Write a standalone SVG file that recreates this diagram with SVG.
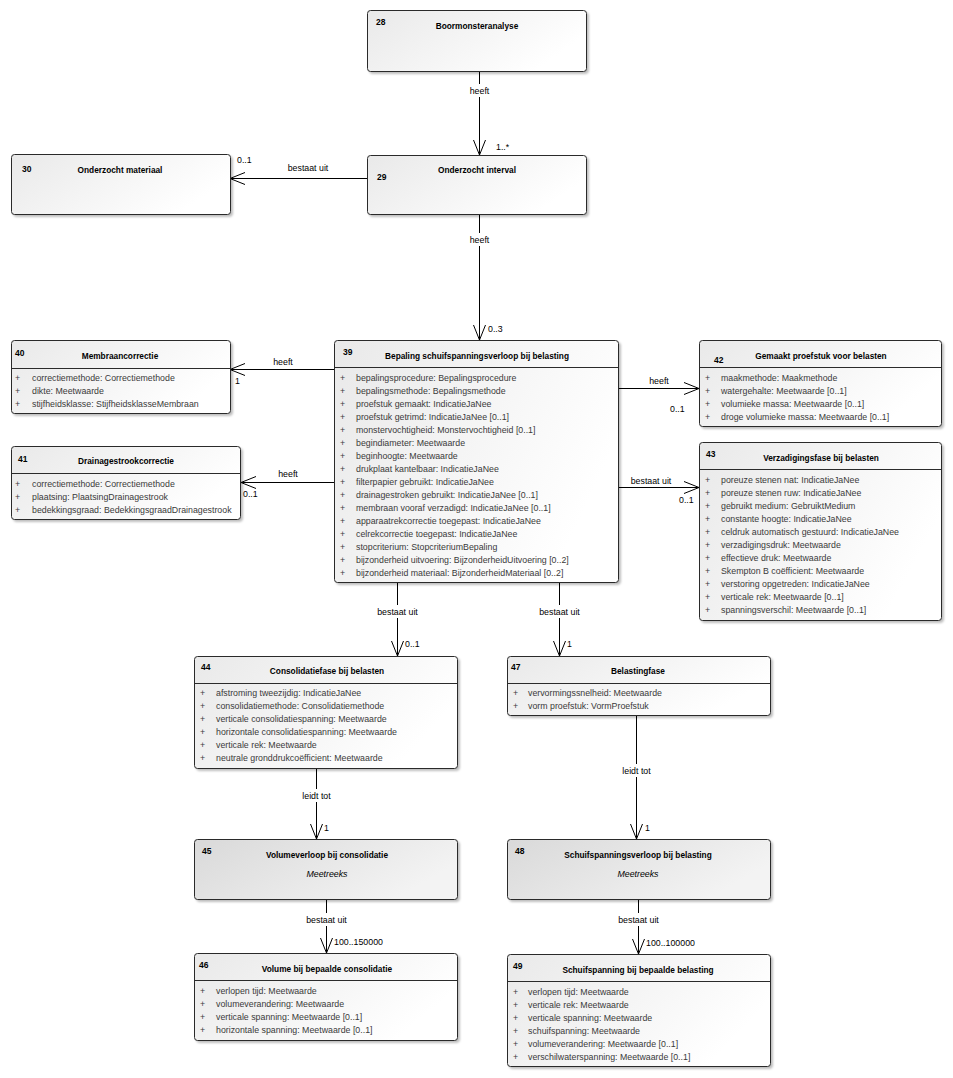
<svg xmlns="http://www.w3.org/2000/svg" width="953" height="1078" viewBox="0 0 953 1078">
  <defs>
    <linearGradient id="fillClass" x1="0" y1="0" x2="1" y2="0.4">
      <stop offset="0" stop-color="#e9e9e9"/>
      <stop offset="1" stop-color="#ffffff"/>
    </linearGradient>
    <linearGradient id="fillSeries" x1="0" y1="0" x2="1" y2="0.4">
      <stop offset="0" stop-color="#d9d9d9"/>
      <stop offset="1" stop-color="#f3f3f3"/>
    </linearGradient>
    <filter id="shadow" x="-5%" y="-5%" width="110%" height="120%">
      <feDropShadow dx="2" dy="2" stdDeviation="1.2" flood-color="#000" flood-opacity="0.25"/>
    </filter>
    <marker id="open" markerWidth="17" markerHeight="14" refX="15.5" refY="7" orient="auto" markerUnits="userSpaceOnUse">
      <path d="M0.5,1 L15.5,7 L0.5,13" fill="none" stroke="#000" stroke-width="1"/>
    </marker>
    <style>
      .box { fill: url(#fillClass); stroke: #2b2b2b; stroke-width: 1; filter: url(#shadow); }
      .series { fill: url(#fillSeries); stroke: #2b2b2b; stroke-width: 1; filter: url(#shadow); }
      .sep { stroke: #2b2b2b; stroke-width: 1; }
      .num { font-family: "Liberation Sans", Arial, sans-serif; font-size: 8.5px; font-weight: bold; fill: #000; }
      .title { font-family: "Liberation Sans", Arial, sans-serif; font-size: 8.3px; font-weight: bold; fill: #000; text-anchor: middle; }
      .stereo { font-family: "Liberation Sans", Arial, sans-serif; font-size: 8.8px; font-style: italic; fill: #000; text-anchor: middle; }
      .attr { font-family: "Liberation Sans", Arial, sans-serif; font-size: 8.8px; fill: #3a3a3a; }
      .conn { stroke: #000; stroke-width: 1; fill: none; marker-end: url(#open); }
      .lbl { font-family: "Liberation Sans", Arial, sans-serif; font-size: 8.8px; fill: #000; }
      .mid { text-anchor: middle; }
      .bg { fill: #fff; }
    </style>
  </defs>

  <rect width="953" height="1078" fill="#fff"/>

  <!-- associations -->
  <g id="connectors">
    <!-- 28 -> 29 -->
    <line class="conn" x1="479.5" y1="71" x2="479.5" y2="155"/>
    <rect class="bg" x="467" y="84" width="25" height="13"/>
    <text class="lbl mid" x="479.5" y="94">heeft</text>
    <text class="lbl" x="496" y="150">1..*</text>

    <!-- 29 -> 30 -->
    <line class="conn" x1="367" y1="178.5" x2="230" y2="178.5"/>
    <text class="lbl mid" x="308" y="171">bestaat uit</text>
    <text class="lbl" x="237" y="163">0..1</text>

    <!-- 29 -> 39 -->
    <line class="conn" x1="479.5" y1="215" x2="479.5" y2="340"/>
    <rect class="bg" x="467" y="233" width="25" height="13"/>
    <text class="lbl mid" x="479.5" y="243">heeft</text>
    <text class="lbl" x="488" y="332">0..3</text>

    <!-- 39 -> 40 -->
    <line class="conn" x1="334" y1="369.5" x2="230" y2="369.5"/>
    <text class="lbl mid" x="283" y="365">heeft</text>
    <text class="lbl" x="235" y="384">1</text>

    <!-- 39 -> 41 -->
    <line class="conn" x1="334" y1="482.5" x2="241" y2="482.5"/>
    <text class="lbl mid" x="288" y="477">heeft</text>
    <text class="lbl" x="243" y="497">0..1</text>

    <!-- 39 -> 42 -->
    <line class="conn" x1="619" y1="388.5" x2="699" y2="388.5"/>
    <text class="lbl mid" x="659" y="384">heeft</text>
    <text class="lbl" x="670" y="412">0..1</text>

    <!-- 39 -> 43 -->
    <line class="conn" x1="619" y1="487.5" x2="699" y2="487.5"/>
    <text class="lbl mid" x="651" y="484">bestaat uit</text>
    <text class="lbl" x="679" y="503">0..1</text>

    <!-- 39 -> 44 -->
    <line class="conn" x1="397.5" y1="583" x2="397.5" y2="656"/>
    <rect class="bg" x="374" y="605" width="47" height="13"/>
    <text class="lbl mid" x="397.5" y="615">bestaat uit</text>
    <text class="lbl" x="405" y="647">0..1</text>

    <!-- 39 -> 47 -->
    <line class="conn" x1="559.5" y1="583" x2="559.5" y2="656"/>
    <rect class="bg" x="536" y="605" width="47" height="13"/>
    <text class="lbl mid" x="559.5" y="615">bestaat uit</text>
    <text class="lbl" x="567" y="647">1</text>

    <!-- 44 -> 45 -->
    <line class="conn" x1="316.5" y1="769" x2="316.5" y2="839"/>
    <rect class="bg" x="298" y="789" width="37" height="13"/>
    <text class="lbl mid" x="316.5" y="799">leidt tot</text>
    <text class="lbl" x="324" y="831">1</text>

    <!-- 47 -> 48 -->
    <line class="conn" x1="636.5" y1="716" x2="636.5" y2="839"/>
    <rect class="bg" x="618" y="764" width="37" height="13"/>
    <text class="lbl mid" x="636.5" y="774">leidt tot</text>
    <text class="lbl" x="645" y="831">1</text>

    <!-- 45 -> 46 -->
    <line class="conn" x1="326.5" y1="900" x2="326.5" y2="953"/>
    <rect class="bg" x="303" y="913" width="47" height="13"/>
    <text class="lbl mid" x="326.5" y="923">bestaat uit</text>
    <text class="lbl" x="334" y="945">100..150000</text>

    <!-- 48 -> 49 -->
    <line class="conn" x1="638.5" y1="900" x2="638.5" y2="954"/>
    <rect class="bg" x="615" y="913" width="47" height="13"/>
    <text class="lbl mid" x="638.5" y="923">bestaat uit</text>
    <text class="lbl" x="646" y="946">100..100000</text>
  </g>

  <!-- 28 Boormonsteranalyse -->
  <g id="n28">
    <rect class="box" x="367.5" y="10.5" width="219" height="61" rx="3"/>
    <text class="num" x="376" y="25">28</text>
    <text class="title" x="477" y="29">Boormonsteranalyse</text>
  </g>

  <!-- 29 Onderzocht interval -->
  <g id="n29">
    <rect class="box" x="367.5" y="155.5" width="219" height="59" rx="3"/>
    <text class="num" x="377" y="180">29</text>
    <text class="title" x="477" y="173">Onderzocht interval</text>
  </g>

  <!-- 30 Onderzocht materiaal -->
  <g id="n30">
    <rect class="box" x="11.5" y="154.5" width="219" height="60" rx="3"/>
    <text class="num" x="22" y="172">30</text>
    <text class="title" x="120" y="173">Onderzocht materiaal</text>
  </g>

  <!-- 40 Membraancorrectie -->
  <g id="n40">
    <rect class="box" x="11.5" y="340.5" width="219" height="73" rx="3"/>
    <line class="sep" x1="11.5" y1="368.5" x2="230.5" y2="368.5"/>
    <text class="num" x="15" y="356">40</text>
    <text class="title" x="120" y="359">Membraancorrectie</text>
    <g class="attr">
      <text x="15" y="381">+</text><text x="32" y="381">correctiemethode: Correctiemethode</text>
      <text x="15" y="394">+</text><text x="32" y="394">dikte: Meetwaarde</text>
      <text x="15" y="407">+</text><text x="32" y="407">stijfheidsklasse: StijfheidsklasseMembraan</text>
    </g>
  </g>

  <!-- 41 Drainagestrookcorrectie -->
  <g id="n41">
    <rect class="box" x="11.5" y="446.5" width="229" height="73" rx="3"/>
    <line class="sep" x1="11.5" y1="473.5" x2="240.5" y2="473.5"/>
    <text class="num" x="18" y="462">41</text>
    <text class="title" x="126" y="464">Drainagestrookcorrectie</text>
    <g class="attr">
      <text x="15" y="487">+</text><text x="32" y="487">correctiemethode: Correctiemethode</text>
      <text x="15" y="500">+</text><text x="32" y="500">plaatsing: PlaatsingDrainagestrook</text>
      <text x="15" y="513">+</text><text x="32" y="513">bedekkingsgraad: BedekkingsgraadDrainagestrook</text>
    </g>
  </g>

  <!-- 39 Bepaling schuifspanningsverloop bij belasting -->
  <g id="n39">
    <rect class="box" x="334.5" y="340.5" width="284" height="242" rx="3"/>
    <line class="sep" x1="334.5" y1="367.5" x2="618.5" y2="367.5"/>
    <text class="num" x="343" y="355">39</text>
    <text class="title" x="477" y="359">Bepaling schuifspanningsverloop bij belasting</text>
    <g class="attr">
      <text x="340" y="381">+</text><text x="356" y="381">bepalingsprocedure: Bepalingsprocedure</text>
      <text x="340" y="394">+</text><text x="356" y="394">bepalingsmethode: Bepalingsmethode</text>
      <text x="340" y="407">+</text><text x="356" y="407">proefstuk gemaakt: IndicatieJaNee</text>
      <text x="340" y="420">+</text><text x="356" y="420">proefstuk getrimd: IndicatieJaNee [0..1]</text>
      <text x="340" y="433">+</text><text x="356" y="433">monstervochtigheid: Monstervochtigheid [0..1]</text>
      <text x="340" y="446">+</text><text x="356" y="446">begindiameter: Meetwaarde</text>
      <text x="340" y="459">+</text><text x="356" y="459">beginhoogte: Meetwaarde</text>
      <text x="340" y="472">+</text><text x="356" y="472">drukplaat kantelbaar: IndicatieJaNee</text>
      <text x="340" y="485">+</text><text x="356" y="485">filterpapier gebruikt: IndicatieJaNee</text>
      <text x="340" y="498">+</text><text x="356" y="498">drainagestroken gebruikt: IndicatieJaNee [0..1]</text>
      <text x="340" y="511">+</text><text x="356" y="511">membraan vooraf verzadigd: IndicatieJaNee [0..1]</text>
      <text x="340" y="524">+</text><text x="356" y="524">apparaatrekcorrectie toegepast: IndicatieJaNee</text>
      <text x="340" y="537">+</text><text x="356" y="537">celrekcorrectie toegepast: IndicatieJaNee</text>
      <text x="340" y="550">+</text><text x="356" y="550">stopcriterium: StopcriteriumBepaling</text>
      <text x="340" y="563">+</text><text x="356" y="563">bijzonderheid uitvoering: BijzonderheidUitvoering [0..2]</text>
      <text x="340" y="576">+</text><text x="356" y="576">bijzonderheid materiaal: BijzonderheidMateriaal [0..2]</text>
    </g>
  </g>

  <!-- 42 Gemaakt proefstuk voor belasten -->
  <g id="n42">
    <rect class="box" x="699.5" y="340.5" width="242" height="86" rx="3"/>
    <line class="sep" x1="699.5" y1="367.5" x2="941.5" y2="367.5"/>
    <text class="num" x="714" y="363">42</text>
    <text class="title" x="821" y="359">Gemaakt proefstuk voor belasten</text>
    <g class="attr">
      <text x="705" y="381">+</text><text x="721" y="381">maakmethode: Maakmethode</text>
      <text x="705" y="394">+</text><text x="721" y="394">watergehalte: Meetwaarde [0..1]</text>
      <text x="705" y="407">+</text><text x="721" y="407">volumieke massa: Meetwaarde [0..1]</text>
      <text x="705" y="420">+</text><text x="721" y="420">droge volumieke massa: Meetwaarde [0..1]</text>
    </g>
  </g>

  <!-- 43 Verzadigingsfase bij belasten -->
  <g id="n43">
    <rect class="box" x="699.5" y="442.5" width="242" height="178" rx="3"/>
    <line class="sep" x1="699.5" y1="469.5" x2="941.5" y2="469.5"/>
    <text class="num" x="706" y="457">43</text>
    <text class="title" x="821" y="461">Verzadigingsfase bij belasten</text>
    <g class="attr">
      <text x="705" y="483">+</text><text x="721" y="483">poreuze stenen nat: IndicatieJaNee</text>
      <text x="705" y="496">+</text><text x="721" y="496">poreuze stenen ruw: IndicatieJaNee</text>
      <text x="705" y="509">+</text><text x="721" y="509">gebruikt medium: GebruiktMedium</text>
      <text x="705" y="522">+</text><text x="721" y="522">constante hoogte: IndicatieJaNee</text>
      <text x="705" y="535">+</text><text x="721" y="535">celdruk automatisch gestuurd: IndicatieJaNee</text>
      <text x="705" y="548">+</text><text x="721" y="548">verzadigingsdruk: Meetwaarde</text>
      <text x="705" y="561">+</text><text x="721" y="561">effectieve druk: Meetwaarde</text>
      <text x="705" y="574">+</text><text x="721" y="574">Skempton B coëfficient: Meetwaarde</text>
      <text x="705" y="587">+</text><text x="721" y="587">verstoring opgetreden: IndicatieJaNee</text>
      <text x="705" y="600">+</text><text x="721" y="600">verticale rek: Meetwaarde [0..1]</text>
      <text x="705" y="613">+</text><text x="721" y="613">spanningsverschil: Meetwaarde [0..1]</text>
    </g>
  </g>

  <!-- 44 Consolidatiefase bij belasten -->
  <g id="n44">
    <rect class="box" x="194.5" y="656.5" width="263" height="112" rx="3"/>
    <line class="sep" x1="194.5" y1="683.5" x2="457.5" y2="683.5"/>
    <text class="num" x="201" y="670">44</text>
    <text class="title" x="327" y="674">Consolidatiefase bij belasten</text>
    <g class="attr">
      <text x="200" y="696">+</text><text x="216" y="696">afstroming tweezijdig: IndicatieJaNee</text>
      <text x="200" y="709">+</text><text x="216" y="709">consolidatiemethode: Consolidatiemethode</text>
      <text x="200" y="722">+</text><text x="216" y="722">verticale consolidatiespanning: Meetwaarde</text>
      <text x="200" y="735">+</text><text x="216" y="735">horizontale consolidatiespanning: Meetwaarde</text>
      <text x="200" y="748">+</text><text x="216" y="748">verticale rek: Meetwaarde</text>
      <text x="200" y="761">+</text><text x="216" y="761">neutrale gronddrukcoëfficient: Meetwaarde</text>
    </g>
  </g>

  <!-- 47 Belastingfase -->
  <g id="n47">
    <rect class="box" x="507.5" y="656.5" width="263" height="59" rx="3"/>
    <line class="sep" x1="507.5" y1="683.5" x2="770.5" y2="683.5"/>
    <text class="num" x="511" y="670">47</text>
    <text class="title" x="638" y="674">Belastingfase</text>
    <g class="attr">
      <text x="513" y="696">+</text><text x="528" y="696">vervormingssnelheid: Meetwaarde</text>
      <text x="513" y="709">+</text><text x="528" y="709">vorm proefstuk: VormProefstuk</text>
    </g>
  </g>

  <!-- 45 Volumeverloop bij consolidatie -->
  <g id="n45">
    <rect class="series" x="194.5" y="839.5" width="263" height="60" rx="3"/>
    <text class="num" x="202" y="854">45</text>
    <text class="title" x="327" y="858">Volumeverloop bij consolidatie</text>
    <text class="stereo" x="327" y="877">Meetreeks</text>
  </g>

  <!-- 48 Schuifspanningsverloop bij belasting -->
  <g id="n48">
    <rect class="series" x="507.5" y="839.5" width="263" height="60" rx="3"/>
    <text class="num" x="515" y="854">48</text>
    <text class="title" x="638" y="858">Schuifspanningsverloop bij belasting</text>
    <text class="stereo" x="638" y="877">Meetreeks</text>
  </g>

  <!-- 46 Volume bij bepaalde consolidatie -->
  <g id="n46">
    <rect class="box" x="194.5" y="953.5" width="263" height="87" rx="3"/>
    <line class="sep" x1="194.5" y1="980.5" x2="457.5" y2="980.5"/>
    <text class="num" x="199" y="968">46</text>
    <text class="title" x="327" y="972">Volume bij bepaalde consolidatie</text>
    <g class="attr">
      <text x="200" y="994">+</text><text x="216" y="994">verlopen tijd: Meetwaarde</text>
      <text x="200" y="1007">+</text><text x="216" y="1007">volumeverandering: Meetwaarde</text>
      <text x="200" y="1020">+</text><text x="216" y="1020">verticale spanning: Meetwaarde [0..1]</text>
      <text x="200" y="1033">+</text><text x="216" y="1033">horizontale spanning: Meetwaarde [0..1]</text>
    </g>
  </g>

  <!-- 49 Schuifspanning bij bepaalde belasting -->
  <g id="n49">
    <rect class="box" x="507.5" y="954.5" width="263" height="112" rx="3"/>
    <line class="sep" x1="507.5" y1="981.5" x2="770.5" y2="981.5"/>
    <text class="num" x="513" y="969">49</text>
    <text class="title" x="638" y="973">Schuifspanning bij bepaalde belasting</text>
    <g class="attr">
      <text x="513" y="995">+</text><text x="528" y="995">verlopen tijd: Meetwaarde</text>
      <text x="513" y="1008">+</text><text x="528" y="1008">verticale rek: Meetwaarde</text>
      <text x="513" y="1021">+</text><text x="528" y="1021">verticale spanning: Meetwaarde</text>
      <text x="513" y="1034">+</text><text x="528" y="1034">schuifspanning: Meetwaarde</text>
      <text x="513" y="1047">+</text><text x="528" y="1047">volumeverandering: Meetwaarde [0..1]</text>
      <text x="513" y="1060">+</text><text x="528" y="1060">verschilwaterspanning: Meetwaarde [0..1]</text>
    </g>
  </g>
</svg>
